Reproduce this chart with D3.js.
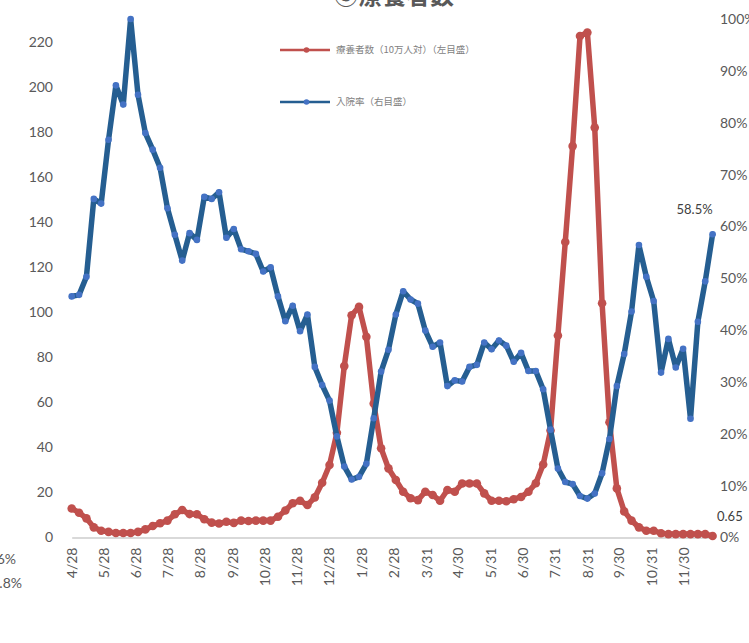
<!DOCTYPE html>
<html><head><meta charset="utf-8">
<script src="https://cdn.jsdelivr.net/npm/d3@7"></script>
<style>body{margin:0;background:#fff;overflow:hidden}svg{display:block}</style>
</head><body>
<script>
// ---- data ----
const startDate = "2020-04-28"; // weekly points
const tickDates = ["2020-04-28","2020-05-28","2020-06-28","2020-07-28","2020-08-28","2020-09-28","2020-10-28","2020-11-28","2020-12-28","2021-01-28","2021-02-28","2021-03-31","2021-04-30","2021-05-31","2021-06-30","2021-07-31","2021-08-31","2021-09-30","2021-10-31","2021-11-30"];
const tickLabels = ["4/28","5/28","6/28","7/28","8/28","9/28","10/28","11/28","12/28","1/28","2/28","3/31","4/30","5/31","6/30","7/31","8/31","9/30","10/31","11/30"];
// 療養者数（10万人対）
const patients = [12.9,11.0,8.5,4.5,3.0,2.5,2.0,2.0,2.0,2.5,3.6,5.1,6.3,7.5,10.3,12.2,10.4,10.3,8.1,6.6,6.2,7.0,6.5,7.5,7.3,7.5,7.5,7.5,9.2,12.0,15.2,16.3,14.4,17.8,24.3,32.2,46.5,76.1,98.7,102.4,89.1,59.5,39.6,30.7,25.5,20.3,17.4,16.6,20.3,18.9,16.3,21.1,20.3,24.0,24.0,24.0,19.6,16.3,16.3,16.1,17.0,18.0,20.3,24.1,32.4,47.5,89.7,131.2,173.8,222.7,224.2,182.0,104.0,51.2,21.8,11.6,7.5,4.5,3.0,3.0,1.9,1.5,1.5,1.5,1.5,1.5,1.5,0.65];
// 入院率 (%)
const hospRate = [46.5,46.8,50.3,65.3,64.4,76.7,87.2,83.5,100.0,85.4,78.0,74.8,71.3,63.5,58.4,53.4,58.7,57.4,65.7,65.3,66.6,57.8,59.5,55.6,55.2,54.7,51.3,52.1,46.5,41.7,44.7,39.8,43.0,32.9,29.4,26.4,19.5,13.7,11.2,11.7,14.2,23.0,32.0,36.2,43.0,47.5,45.9,45.1,39.9,36.8,37.6,29.2,30.3,30.1,32.9,33.3,37.6,36.3,38.0,37.0,33.9,35.6,32.1,32.1,28.6,20.8,13.3,10.7,10.3,8.0,7.5,8.5,12.4,19.0,29.2,35.4,43.6,56.4,50.3,45.6,31.8,38.3,32.8,36.4,22.9,41.6,49.4,58.5];
const leftTicks = [0,20,40,60,80,100,120,140,160,180,200,220];
const rightTicks = [0,10,20,30,40,50,60,70,80,90,100];
const seriesNames = ["療養者数（10万人対）（左目盛）","入院率（右目盛）"];
const title = "⑤療養者数";
const edgeLabels = ["46.6%","41.8%"]; // labels cut off at the left edge

// ---- chart ----
const W = 749, H = 643;
const parse = d3.timeParse("%Y-%m-%d");
const t0 = parse(startDate);
const dates = patients.map((_, i) => d3.timeDay.offset(t0, 7 * i));
const svg = d3.select("body").append("svg").attr("width", W).attr("height", H);
const font = "Lato, 'Noto Sans', sans-serif";
const cjk = "'Noto Sans CJK JP', sans-serif";
const axisCol = "#595959";
const redC = "#C0504D", blueLine = "#255E91", blueMark = "#4472C4";

const x = d3.scaleTime().domain([dates[0], dates[dates.length - 1]]).range([71.7, 712.6]);
const yL = d3.scaleLinear().domain([0, 240]).range([537.5, -3]);
const yR = d3.scaleLinear().domain([0, 100]).range([537.5, 19]);

// title (cut off at top)
svg.append("text").attr("x", 394).attr("y", 4).attr("text-anchor", "middle")
  .attr("font-family", cjk).attr("font-size", 24).attr("font-weight", "bold")
  .attr("fill", axisCol).text(title);

// left axis
const gl = svg.append("g").attr("transform", "translate(60,0)")
  .call(d3.axisLeft(yL).tickValues(leftTicks).tickSize(0).tickPadding(7));
gl.select(".domain").remove();
gl.selectAll("text").attr("font-family", font).attr("font-size", 14).attr("fill", axisCol);

// right axis
const gr = svg.append("g").attr("transform", "translate(720,0)")
  .call(d3.axisRight(yR).tickValues(rightTicks).tickFormat(d => d + "%").tickSize(0).tickPadding(0));
gr.select(".domain").remove();
gr.selectAll("text").attr("font-family", font).attr("font-size", 14).attr("fill", axisCol);

// bottom axis
const gb = svg.append("g").attr("transform", "translate(0,537.5)")
  .call(d3.axisBottom(x).tickValues(tickDates.map(parse)).tickFormat((d, i) => tickLabels[i]).tickSize(0));
gb.select(".domain").attr("stroke", "#D9D9D9").attr("stroke-width", 2);
gb.selectAll("text").attr("font-family", font).attr("font-size", 14).attr("fill", axisCol)
  .attr("transform", "rotate(-90)").attr("x", -10).attr("y", 0).attr("dy", "0.35em")
  .style("text-anchor", "end");

// red series
const lineL = d3.line().x((d, i) => x(dates[i])).y(d => yL(d));
svg.append("path").datum(patients).attr("d", lineL).attr("fill", "none")
  .attr("stroke", redC).attr("stroke-width", 5.5).attr("stroke-linejoin", "round").attr("stroke-linecap", "round");
svg.append("g").selectAll("circle").data(patients).join("circle")
  .attr("cx", (d, i) => x(dates[i])).attr("cy", d => yL(d)).attr("r", 4.3).attr("fill", redC);

// blue series
const lineR = d3.line().x((d, i) => x(dates[i])).y(d => yR(d));
svg.append("path").datum(hospRate).attr("d", lineR).attr("fill", "none")
  .attr("stroke", blueLine).attr("stroke-width", 5.5).attr("stroke-linejoin", "round").attr("stroke-linecap", "round");
svg.append("g").selectAll("circle").data(hospRate).join("circle")
  .attr("cx", (d, i) => x(dates[i])).attr("cy", d => yR(d)).attr("r", 3.3).attr("fill", blueMark);

// data labels
const last = hospRate.length - 1;
svg.append("text").attr("x", x(dates[last]) - 18).attr("y", yR(hospRate[last]) - 20)
  .attr("text-anchor", "middle").attr("font-family", font).attr("font-size", 13).attr("fill", "#404040")
  .text(hospRate[last].toFixed(1) + "%");
svg.append("text").attr("x", 717).attr("y", yL(patients[last]) - 15)
  .attr("font-family", font).attr("font-size", 13).attr("fill", "#404040")
  .text(patients[last]);

// cut-off labels at left edge
svg.append("text").attr("x", 16).attr("y", 564).attr("text-anchor", "end")
  .attr("font-family", font).attr("font-size", 14).attr("fill", axisCol).text(edgeLabels[0]);
svg.append("text").attr("x", 22).attr("y", 588).attr("text-anchor", "end")
  .attr("font-family", font).attr("font-size", 14).attr("fill", axisCol).text(edgeLabels[1]);

// legend
const leg = [{c: redC, m: redC, y: 50, t: seriesNames[0]}, {c: blueLine, m: blueMark, y: 102, t: seriesNames[1]}];
const lg = svg.append("g").selectAll("g").data(leg).join("g");
lg.append("line").attr("x1", 280).attr("x2", 330).attr("y1", d => d.y).attr("y2", d => d.y)
  .attr("stroke", d => d.c).attr("stroke-width", 2.5);
lg.append("circle").attr("cx", 306.5).attr("cy", d => d.y).attr("r", 2.8).attr("fill", d => d.m);
lg.append("text").attr("x", 336).attr("y", d => d.y).attr("dy", "0.32em")
  .attr("font-family", cjk).attr("font-size", 9.5).attr("fill", "#7F7F7F").text(d => d.t);
</script>
</body></html>
